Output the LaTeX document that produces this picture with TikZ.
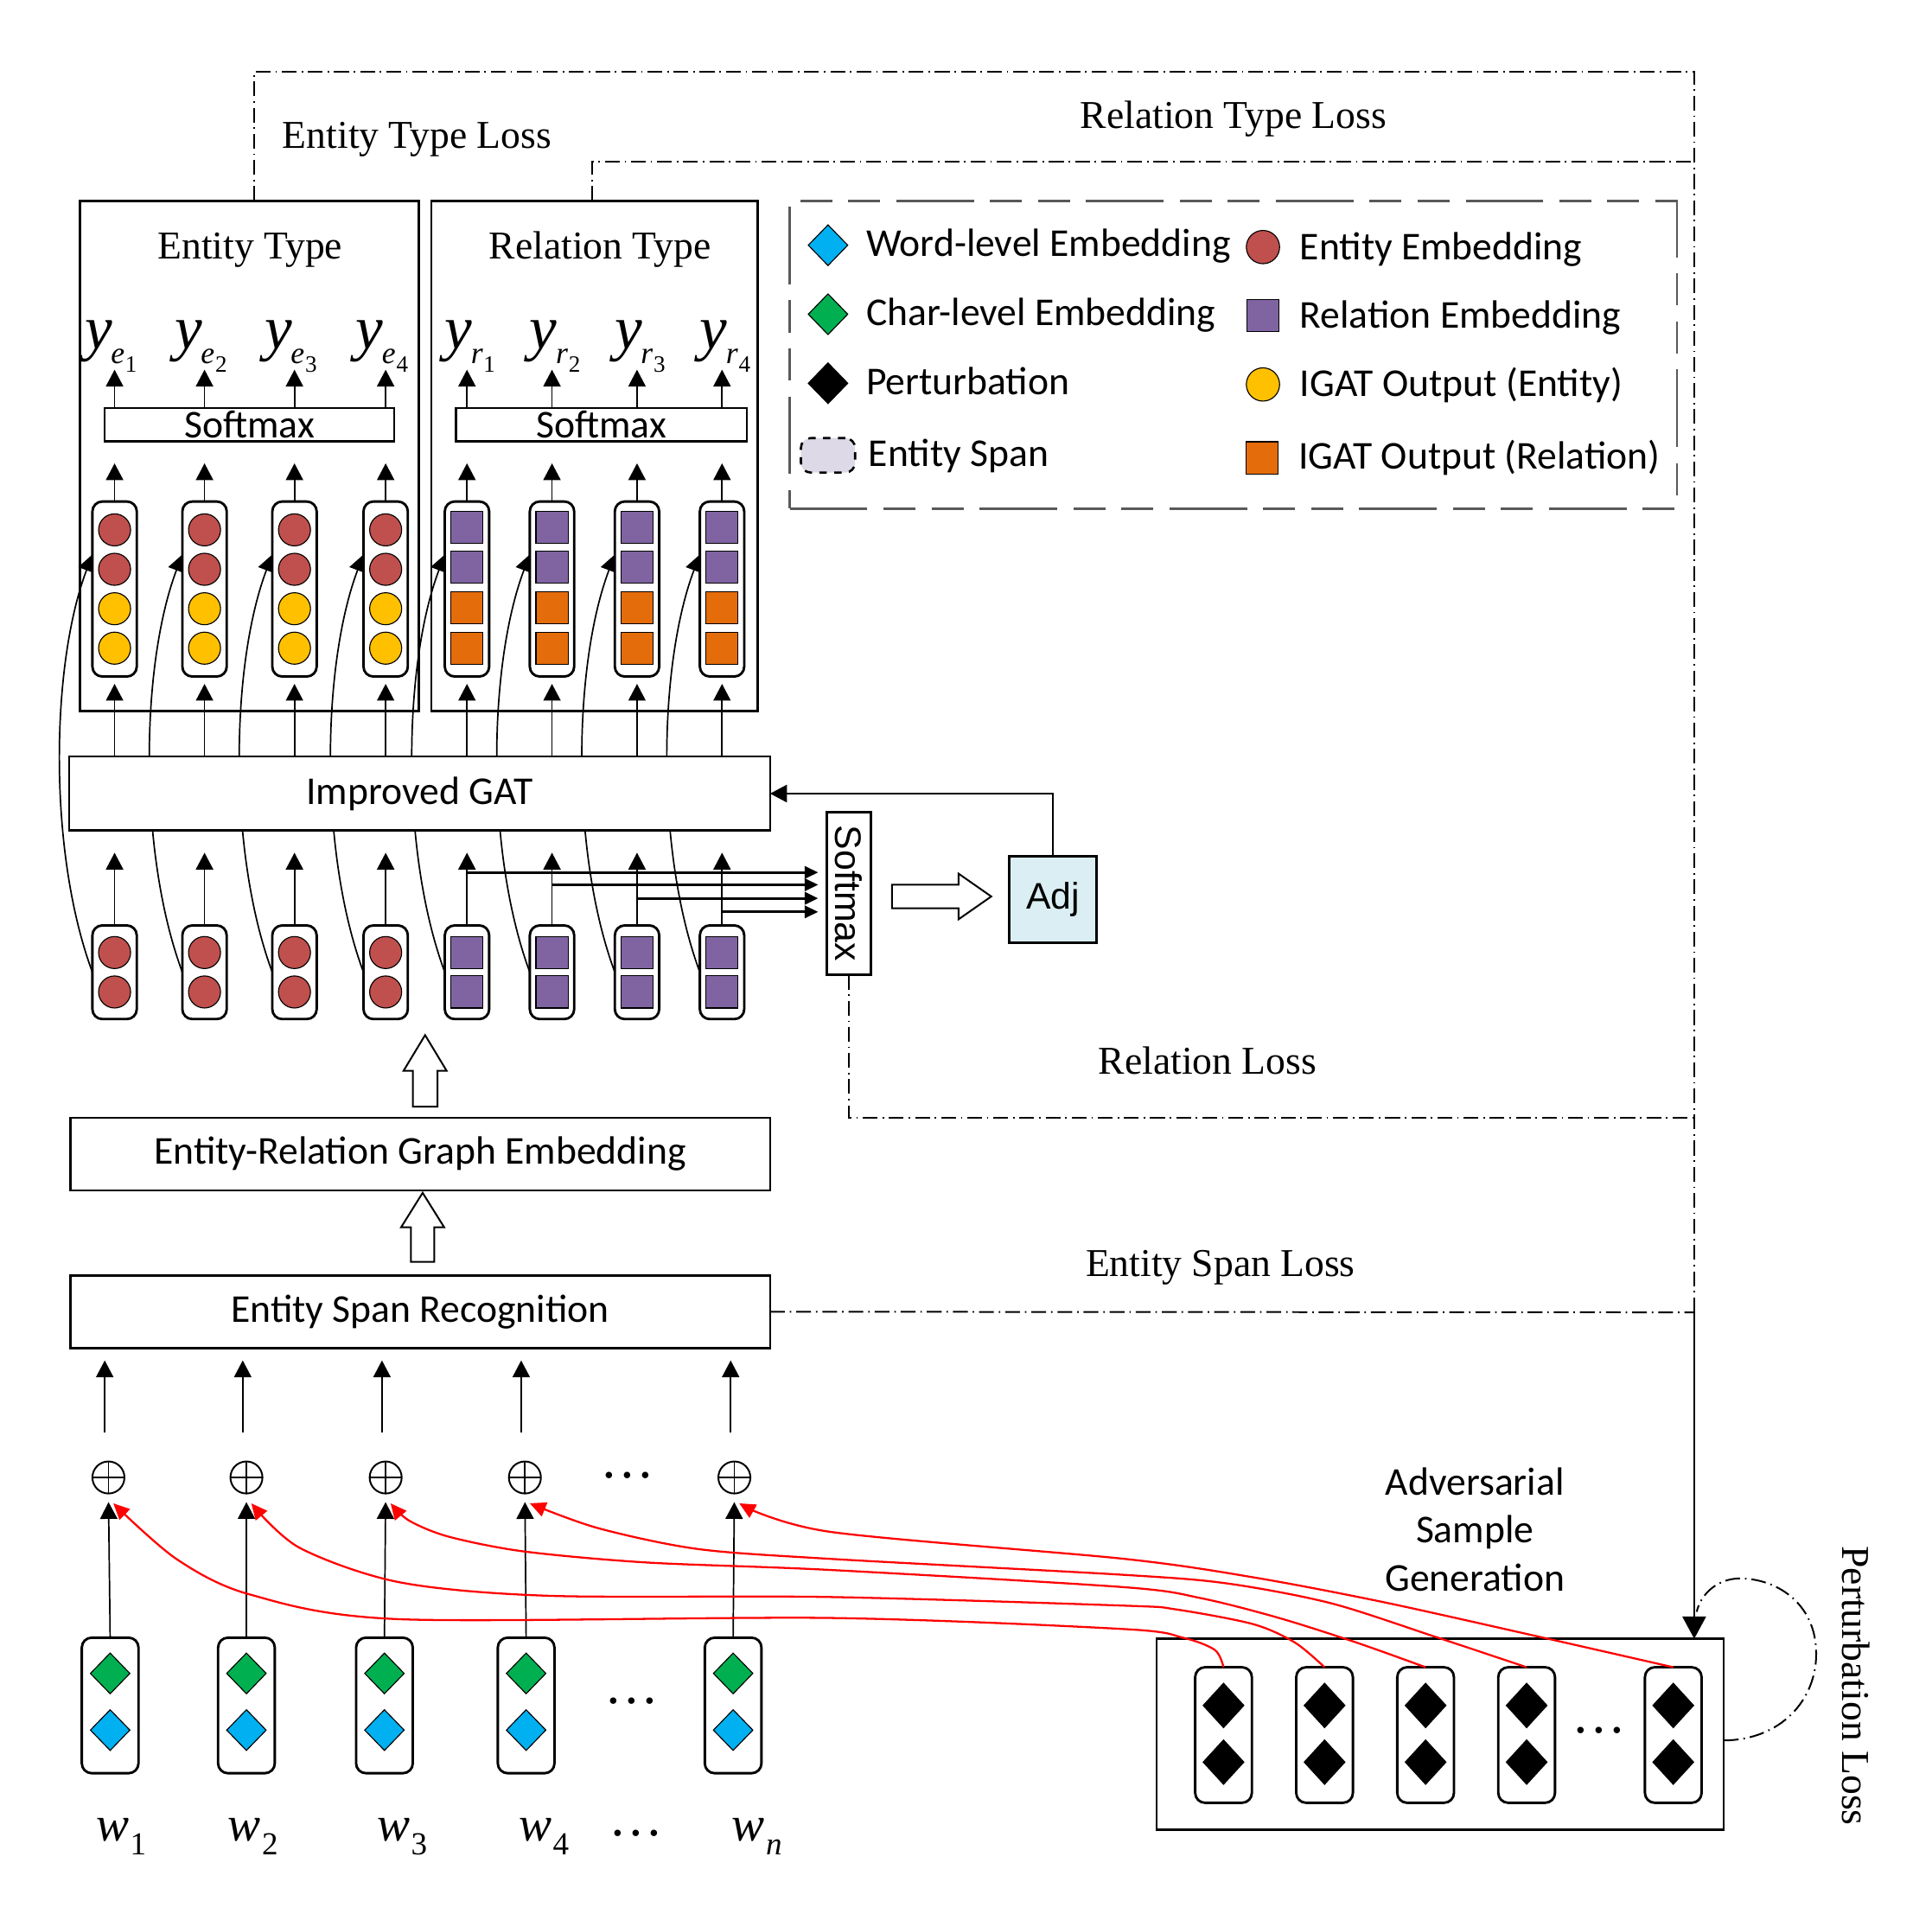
\documentclass[tikz,border=0pt]{standalone}
\usepackage{fontspec}
\setmainfont{Liberation Serif}
\newfontfamily\calfont{Carlito}
\newfontfamily\arialfont{Liberation Sans}
\usetikzlibrary{arrows.meta,shapes.geometric,calc}
\pgfdeclarelayer{bg}
\pgfsetlayers{bg,main}
\definecolor{ered}{HTML}{C0504D}
\definecolor{eyel}{HTML}{FFC000}
\definecolor{rpur}{HTML}{8064A2}
\definecolor{rora}{HTML}{E46C0A}
\definecolor{dgrn}{HTML}{00B050}
\definecolor{dblu}{HTML}{00B0F0}
\definecolor{adjc}{HTML}{DAEEF3}
\definecolor{spanc}{HTML}{DDD9E6}
\newcommand{\myu}{0.5pt}
\newcommand{\sixteen}{\fontsize{16pt}{19.5pt}\selectfont}
\newcommand{\ylab}[2]{{\fontsize{25pt}{25pt}\selectfont\itshape y}\kern-0.5pt\raisebox{-6pt}{\fontsize{12.5pt}{12.5pt}\selectfont\itshape #1\kern0.3pt\raisebox{-3.5pt}{\fontsize{9.5pt}{9.5pt}\selectfont\upshape #2}}}
\newcommand{\wlab}[1]{{\fontsize{20pt}{20pt}\selectfont\itshape w}\kern0.5pt\raisebox{-5.5pt}{\fontsize{13pt}{13pt}\selectfont #1}}
\tikzset{
 nb/.style={inner sep=0pt, outer sep=0pt},
 sbox/.style={nb, draw, line width=0.9pt, fill=white},
 colbox/.style={nb, draw, line width=1pt, rounded corners=4pt, fill=white, minimum width=36*\myu},
 bub/.style={nb, circle, draw, line width=0.4pt, minimum size=26*\myu},
 sqr/.style={nb, draw, line width=0.4pt, minimum width=26*\myu, minimum height=26*\myu},
 dia/.style={nb, diamond, draw, line width=0.4pt, minimum width=32*\myu, minimum height=33*\myu},
 bdia/.style={nb, diamond, draw, fill=black, line width=0.4pt, minimum width=33*\myu, minimum height=36*\myu},
 arr/.style={line width=0.6pt, -{Triangle[length=6.8pt,width=7pt]}},
 harr/.style={line width=1.1pt, -{Triangle[length=5.5pt,width=5pt]}, shorten >=3.5pt},
 lossline/.style={line width=0.7pt, dash pattern=on 6pt off 2pt on 0.6pt off 2pt},
 redarr/.style={red, line width=0.8pt, -{Triangle[length=6.5pt,width=6pt]}},
 sertext/.style={nb, font=\sixteen},
 santext/.style={nb, font=\calfont\sixteen},
 hollow/.style={line width=0.7pt, fill=white},
 oplusn/.style={nb, circle, draw, line width=0.7pt, minimum size=26*\myu,
   path picture={\draw[line width=0.6pt] (path picture bounding box.north) -- (path picture bounding box.south) (path picture bounding box.west) -- (path picture bounding box.east);}},
}
\begin{document}
\begin{tikzpicture}[x=0.5pt, y=-0.5pt]
\useasboundingbox (0,0) rectangle (1568,1553);
\coordinate (tr) at (1375,58);
\coordinate (jn) at (1375,1065);

% ---------- type boxes ----------
\node[nb, draw, line width=0.9pt, minimum width=275*\myu, minimum height=414*\myu] (etbox) at (202.5,370) {};
\node[nb, draw, line width=0.9pt, minimum width=265*\myu, minimum height=414*\myu] (rtbox) at (482.5,370) {};
\node[sertext, anchor=base] (ettitle) at (203,210) {Entity Type};
\node[sertext, anchor=base] (rttitle) at (487,210) {Relation Type};
\node[sbox, santext, draw, fill=white, line width=0.9pt, minimum width=235*\myu, minimum height=27*\myu] (esm) at (202.5,344.5) {Softmax};
\node[sbox, santext, draw, fill=white, line width=0.9pt, minimum width=236*\myu, minimum height=27*\myu] (rsm) at (488,344.5) {Softmax};

% ---------- loss labels ----------
\node[sertext, anchor=base] (etl) at (338.5,120) {Entity Type Loss};
\node[sertext, anchor=base] (rtl) at (1001,104) {Relation Type Loss};
\node[sertext, anchor=base] (rl) at (980,872) {Relation Loss};
\node[sertext, anchor=base] (esl) at (990.5,1036) {Entity Span Loss};
\node[sertext, rotate=-90] (ploss) at (1506,1368) {Perturbation Loss};

% ---------- GAT, softmax, adj, boxes ----------
\node[sbox, santext, draw, fill=white, line width=0.9pt, minimum width=569*\myu, minimum height=60*\myu] (gat) at (340.5,644) {Improved GAT};
\node[sbox, minimum width=36*\myu, minimum height=132*\myu] (vsm) at (689,725) {};
\node[nb, rotate=-90, font=\arialfont\fontsize{15pt}{15pt}\selectfont] (vsmt) at (vsm.center) {Softmax};
\node[sbox, fill=adjc, minimum width=71*\myu, minimum height=70*\myu, font=\arialfont\fontsize{15pt}{15pt}\selectfont] (adj) at (854.5,730) {Adj};
\node[sbox, santext, draw, fill=white, line width=0.9pt, minimum width=568*\myu, minimum height=59*\myu] (erge) at (341,936.5) {Entity-Relation Graph Embedding};
\node[sbox, santext, draw, fill=white, line width=0.9pt, minimum width=568*\myu, minimum height=59*\myu] (esr) at (341,1064.5) {Entity Span Recognition};

% ---------- upper columns ----------
\foreach \i/\x in {1/93,2/166,3/239,4/313}{
  \node[colbox, minimum height=142*\myu] (ue\i) at (\x,478) {};
  \node[bub, fill=ered] (ue\i-a) at (\x,430) {};
  \node[bub, fill=ered] (ue\i-b) at (\x,462) {};
  \node[bub, fill=eyel] (ue\i-c) at (\x,494) {};
  \node[bub, fill=eyel] (ue\i-d) at (\x,526) {};
  \node[nb, anchor=base] (ye\i) at (\x-3,283) {\ylab{e}{\i}};
  \node[colbox, minimum height=76*\myu] (le\i) at (\x,789) {};
  \node[bub, fill=ered] (le\i-a) at (\x,773) {};
  \node[bub, fill=ered] (le\i-b) at (\x,805) {};
}
\foreach \i/\x in {1/379,2/448,3/517,4/586}{
  \node[colbox, minimum height=142*\myu] (ur\i) at (\x,478) {};
  \node[sqr, fill=rpur] (ur\i-a) at (\x,428) {};
  \node[sqr, fill=rpur] (ur\i-b) at (\x,460) {};
  \node[sqr, fill=rora] (ur\i-c) at (\x,493) {};
  \node[sqr, fill=rora] (ur\i-d) at (\x,526) {};
  \node[nb, anchor=base] (yr\i) at (\x+2.5,283) {\ylab{r}{\i}};
  \node[colbox, minimum height=76*\myu] (lr\i) at (\x,789) {};
  \node[sqr, fill=rpur] (lr\i-a) at (\x,773) {};
  \node[sqr, fill=rpur] (lr\i-b) at (\x,805) {};
}

% ---------- curves behind GAT ----------
\begin{pgfonlayer}{bg}
\foreach \n in {ue1,ue2,ue3,ue4,ur1,ur2,ur3,ur4}{}
\foreach \a/\b in {le1/ue1,le2/ue2,le3/ue3,le4/ue4,lr1/ur1,lr2/ur2,lr3/ur3,lr4/ur4}{
  \draw[arr] (\a.west) .. controls +(-36,-97) and +(-34,90) .. ([yshift=14pt]\b.west);
}
\end{pgfonlayer}

% ---------- column arrows ----------
\foreach \c in {ue1,ue2,ue3,ue4}{
  \draw[arr] (esm.north -| \c.north) -- ++(0,-31);
  \draw[arr] (\c.north) -- ++(0,-31);
  \draw[arr, shorten >=3pt] (gat.north -| \c.south) -- (\c.south);
}
\foreach \c in {ur1,ur2,ur3,ur4}{
  \draw[arr] (rsm.north -| \c.north) -- ++(0,-31);
  \draw[arr] (\c.north) -- ++(0,-31);
  \draw[arr, shorten >=3pt] (gat.north -| \c.south) -- (\c.south);
}
\foreach \c in {le1,le2,le3,le4,lr1,lr2,lr3,lr4}{
  \draw[arr] (\c.north) -- ++(0,-59);
}
\draw[harr] (lr1.north |- 0,708) -- (vsm.west |- 0,708);
\draw[harr] (lr2.north |- 0,718) -- (vsm.west |- 0,718);
\draw[harr] (lr3.north |- 0,729) -- (vsm.west |- 0,729);
\draw[harr] (lr4.north |- 0,740) -- (vsm.west |- 0,740);

\draw[hollow] (724,718) -- (778,718) -- (778,709) -- (804.5,727.5) -- (778,746) -- (778,737) -- (724,737) -- cycle;
\draw[arr, line width=0.8pt] (adj.north) |- (gat.east);

% hollow up arrows
\draw[hollow] (335,898) -- (335,869) -- (327.5,869) -- (345,840) -- (362.5,869) -- (355,869) -- (355,898) -- cycle;
\draw[hollow] (333.5,1024) -- (333.5,996) -- (325.5,996) -- (343,968) -- (360.5,996) -- (352.5,996) -- (352.5,1024) -- cycle;

% ---------- loss lines ----------
\draw[lossline] ([xshift=2pt]etbox.north) |- (tr) -- (jn);
\draw[lossline] ([xshift=-1pt]rtbox.north) |- (1375,131);
\draw[lossline] (vsm.south) |- (1375,907);
\draw[lossline] (esr.east) -- (jn);

% ---------- legend ----------
\node[nb, draw=black!65, line width=0.9pt, dash pattern=on 31.5pt off 6.5pt on 13pt off 6.5pt on 13pt off 6.5pt, minimum width=720*\myu, minimum height=249.5*\myu] (legend) at (1001,288) {};
\node[dia, fill=dblu] (lg1) at (672,199) {};
\node[dia, fill=dgrn] (lg2) at (672,255) {};
\node[dia, fill=black] (lg3) at (672,311) {};
\node[nb, draw, dashed, line width=0.9pt, rounded corners=4pt, fill=spanc, minimum width=44*\myu, minimum height=28*\myu] (lg4) at (672,369.5) {};
\node[bub, fill=ered, minimum size=27*\myu] (lg5) at (1025,200.5) {};
\node[sqr, fill=rpur] (lg6) at (1025,256) {};
\node[bub, fill=eyel, minimum size=27*\myu] (lg7) at (1025,312) {};
\node[sqr, fill=rora] (lg8) at (1024,371.5) {};
\node[santext, anchor=base west] (lt1) at (703,208) {Word-level Embedding};
\node[santext, anchor=base west] (lt2) at (703,264) {Char-level Embedding};
\node[santext, anchor=base west] (lt3) at (703,320.5) {Perturbation};
\node[santext, anchor=base west] (lt4) at (705,378.5) {Entity Span};
\node[santext, anchor=base west] (lt5) at (1055,211) {Entity Embedding};
\node[santext, anchor=base west] (lt6) at (1055,266) {Relation Embedding};
\node[santext, anchor=base west] (lt7) at (1055,322) {IGAT Output (Entity)};
\node[santext, anchor=base west] (lt8) at (1054,380.5) {IGAT Output (Relation)};

% ---------- bottom: words ----------
\foreach \i/\x in {1/89.4,2/200,3/312,4/427,5/595}{
  \node[colbox, minimum width=46*\myu, minimum height=110*\myu] (w\i) at (\x,1384) {};
  \node[dia, fill=dgrn] (w\i-a) at (\x,1358) {};
  \node[dia, fill=dblu] (w\i-b) at (\x,1404) {};
}
\foreach \i/\x in {1/88,2/200,3/313,4/426,5/596}{
  \node[oplusn] (p\i) at (\x,1199) {};
}
\node[nb, anchor=base west] (wl1) at (78,1494) {\wlab{1}};
\node[nb, anchor=base west] (wl2) at (185,1494) {\wlab{2}};
\node[nb, anchor=base west] (wl3) at (306,1494) {\wlab{3}};
\node[nb, anchor=base west] (wl4) at (421,1494) {\wlab{4}};
\node[nb, anchor=base west] (wl5) at (594,1494) {\wlab{\itshape n}};
\node[nb, anchor=base, font=\fontsize{22pt}{22pt}\selectfont] (dt1) at (509,1199.5) {…};
\node[nb, anchor=base, font=\fontsize{22pt}{22pt}\selectfont] (dt2) at (513,1382.5) {…};
\node[nb, anchor=base, font=\fontsize{22pt}{22pt}\selectfont] (dt3) at (516.5,1489.5) {…};

\foreach \i in {1,...,5}{
  \draw[arr, shorten >=3.5pt] (w\i.north) -- (p\i.south);
  \draw[arr] ([xshift=-1.5pt,yshift=11.75pt]p\i.north) -- ++(0,-58.5);
}

% ---------- perturbation box ----------
\node[nb, draw, line width=0.9pt, minimum width=460.5*\myu, minimum height=155*\myu] (pbox) at (1168.8,1407.4) {};
\foreach \i/\x in {1/993,2/1075,3/1157,4/1239,5/1358}{
  \node[colbox, minimum width=46*\myu, minimum height=110*\myu] (q\i) at (\x,1408) {};
  \node[bdia] (q\i-a) at (\x,1384) {};
  \node[bdia] (q\i-b) at (\x,1430) {};
}
\node[nb, anchor=base, font=\fontsize{22pt}{22pt}\selectfont] (dt4) at (1298,1406.5) {…};
\node[santext, align=center, font=\calfont\fontsize{16pt}{19.5pt}\selectfont] (asg) at (1197,1241) {Adversarial\\Sample\\Generation};

\draw[line width=0.7pt, -{Triangle[length=9pt,width=9.5pt]}] (jn) -- (jn |- pbox.north);
\draw[lossline] ([yshift=-2.5pt]pbox.east) .. controls (1445,1412) and (1474,1380) .. (1474,1342) .. controls (1474,1300) and (1440,1280) .. (1410,1281) .. controls (1392,1282) and (1380,1295) .. (1377,1308);

% ---------- red curves ----------
\foreach \i in {1,...,5}{ \coordinate (re\i) at ($(p\i.south)+(4,8)$); }
\draw[redarr] plot[smooth, tension=0.5] coordinates {(q1.north) (986,1339) (960,1329) (912,1322) (673,1313) (324,1314) (203,1294) (143,1265) (re1)};
\draw[redarr] plot[smooth, tension=0.5] coordinates {(q2.north) (1051,1333) (1017,1318) (954,1306) (912,1303) (673,1296) (445,1295) (324,1284) (243,1256) (re2)};
\draw[redarr] plot[smooth, tension=0.5] coordinates {(q3.north) (1101,1333) (1038,1313) (975,1297) (912,1288) (673,1274) (525,1268) (425,1259) (364,1247) (332,1234) (re3)};
\draw[redarr] plot[smooth, tension=0.5] coordinates {(q4.north) (1164,1328) (1080,1301) (996,1285) (912,1278) (673,1265) (566,1257) (485,1240) (re4)};
\draw[redarr] plot[smooth, tension=0.5] coordinates {(q5.north) (1248,1328) (1122,1300) (1017,1280) (912,1265) (673,1243) (re5)};
\end{tikzpicture}
\end{document}
